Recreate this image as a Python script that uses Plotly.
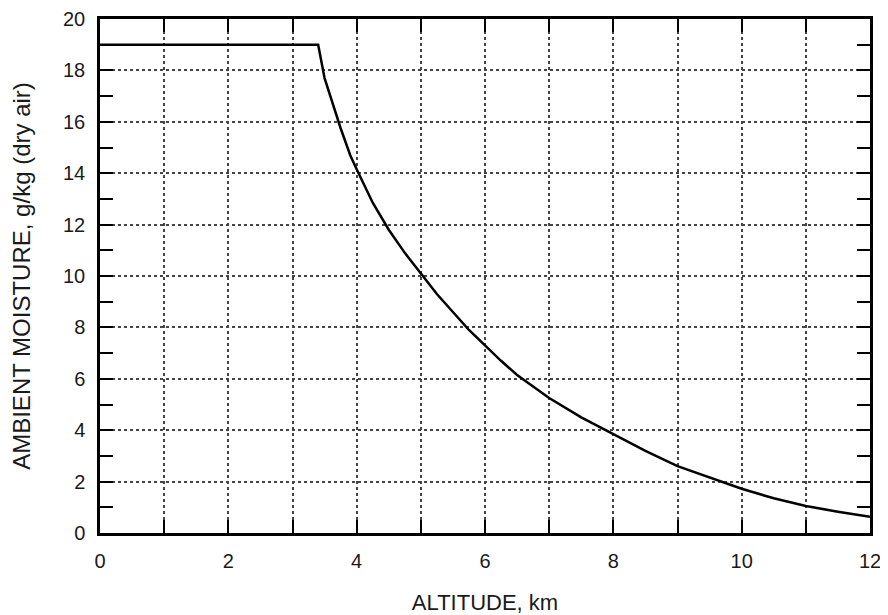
import plotly.graph_objects as go

altitude_km = [0, 3.4, 3.5, 3.6, 3.75, 3.9, 4.0, 4.25, 4.5, 4.75, 5.0, 5.25, 5.5, 5.75, 6.0, 6.25, 6.5, 6.75, 7.0, 7.5, 8.0, 8.5, 9.0, 9.5, 10.0, 10.5, 11.0, 11.5, 12.0]
moisture_g_per_kg = [19.0, 19.0, 17.7, 16.9, 15.75, 14.7, 14.15, 12.85, 11.8, 10.9, 10.1, 9.3, 8.6, 7.9, 7.3, 6.7, 6.15, 5.7, 5.25, 4.5, 3.85, 3.2, 2.6, 2.15, 1.72, 1.35, 1.05, 0.83, 0.63]

x_tickvals = list(range(0, 13))
x_ticktext = [str(v) if v % 2 == 0 else "" for v in x_tickvals]
y_tickvals = list(range(0, 21, 2))
y_minor_tickvals = list(range(1, 20, 2))

FONT = "Liberation Sans, Arial, sans-serif"
TXT = "#1a1a1a"

fig = go.Figure()
fig.add_trace(go.Scatter(
    x=altitude_km, y=moisture_g_per_kg, mode="lines",
    line=dict(color="black", width=2.5), showlegend=False,
))

axis_common = dict(
    showline=True, linecolor="black", linewidth=2.5, mirror="ticks",
    ticks="inside", ticklen=13, tickwidth=2, tickcolor="black",
    showgrid=True, gridcolor="#444444", gridwidth=1.5, griddash="dot",
    zeroline=False, automargin=False, ticklabeloverflow="allow",
    tickfont=dict(family=FONT, size=20, color=TXT),
)

fig.update_xaxes(
    range=[0, 12], tickmode="array", tickvals=x_tickvals, ticktext=x_ticktext,
    ticklabelstandoff=8,
    title=dict(text="ALTITUDE, km", font=dict(family=FONT, size=22, color=TXT), standoff=30),
    **axis_common,
)
fig.update_yaxes(
    range=[0, 20], tickmode="array", tickvals=y_tickvals,
    ticklabelstandoff=8,
    minor=dict(tickvals=y_minor_tickvals, ticks="inside", ticklen=13, tickwidth=2, tickcolor="black", showgrid=False),
    title=dict(text="AMBIENT MOISTURE, g/kg (dry air)", font=dict(family=FONT, size=24, color=TXT), standoff=30),
    **axis_common,
)

fig.update_layout(
    width=880, height=607,
    margin=dict(l=92, r=18, t=11, b=82),
    paper_bgcolor="white", plot_bgcolor="white",
    font=dict(family=FONT, size=20, color=TXT),
)

fig.write_html("out.html")
